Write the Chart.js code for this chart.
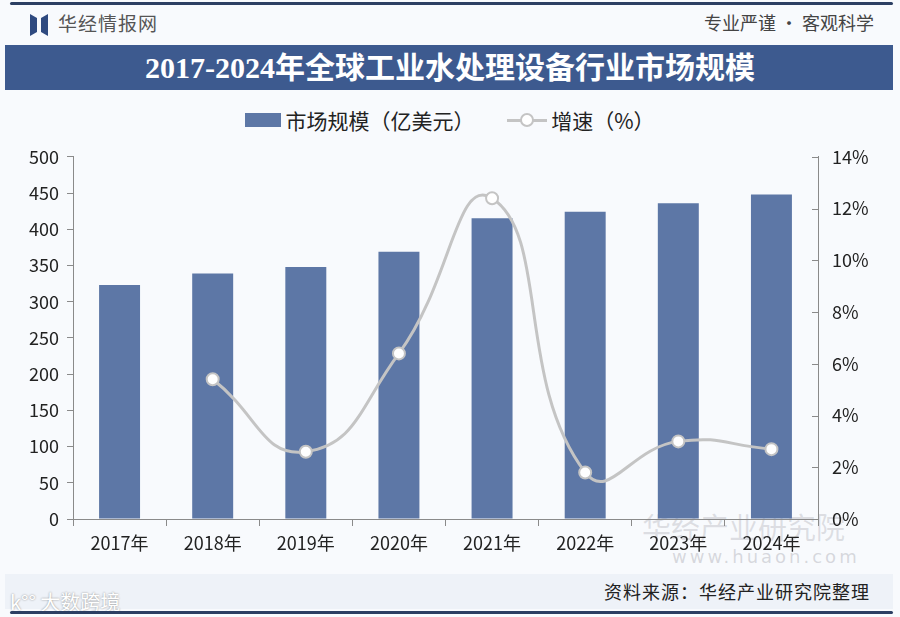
<!DOCTYPE html>
<html>
<head>
<meta charset="utf-8">
<script src="https://cdn.jsdelivr.net/npm/chart.js@4"></script>
<style>
  body { margin: 0; background: #f7f9fc; }
  #page { position: relative; width: 900px; height: 617px; overflow: hidden; background: #f8fafd;
          font-family: "Noto Sans CJK SC", sans-serif; }
  .topline { position: absolute; left: 10px; top: 2px; width: 883px; height: 3px; background: #2c3f63; border-radius: 2px; }
  .botline { position: absolute; left: 10px; top: 611px; width: 883px; height: 3px; background: #2c3f63; border-radius: 2px; }
  .logo { position: absolute; left: 30px; top: 14px; width: 18px; height: 22px; }
  .brand { position: absolute; left: 58px; top: 9px; font-size: 19px; color: #555; letter-spacing: 1px; }
  .motto { position: absolute; right: 26px; top: 9px; font-size: 18px; color: #444; }
  .banner { position: absolute; left: 5px; top: 45px; width: 888px; height: 45px; background: #3d5a8f; }
  .title { position: absolute; left: 0; top: 45px; width: 900px; line-height: 45px; text-align: center; color: #fff;
           font-size: 30px; font-weight: bold; font-family: "Liberation Serif", "Noto Sans CJK SC", serif; }
  .legend { position: absolute; top: 102px; left: 0; width: 900px; text-align: center; font-size: 21px; color: #222; }
  .legend span { display: inline-block; vertical-align: middle; }
  .sw-bar { width: 36px; height: 14px; background: #5d77a6; margin-right: 4px; }
  .sw-line { position: relative; width: 40px; height: 14px; margin: 0 4px 0 28px; }
  .sw-line i { position: absolute; left: 0; top: 6px; width: 40px; height: 3px; background: #c4c4c4; }
  .sw-line b { position: absolute; left: 13px; top: 0; width: 10px; height: 10px; border: 2px solid #c4c4c4; border-radius: 50%; background: #fff; }
  .footer { position: absolute; left: 5px; top: 574px; width: 888px; height: 35px; background: #eef2f8; }
  .source { position: absolute; right: 30px; top: 578px; font-size: 18px; color: #222; letter-spacing: 1px; }
  .wm1 { position: absolute; left: 642px; top: 505px; font-size: 29px; color: rgba(150,150,160,0.28); }
  .wm2 { position: absolute; left: 672px; top: 546px; font-size: 18px; color: rgba(150,150,160,0.35); letter-spacing: 3px;
         font-family: "DejaVu Sans", sans-serif; }
  .wm3 { position: absolute; left: 10px; top: 587px; font-size: 20px; color: #fff; text-shadow: 0 0 2px #888; }
  canvas { position: absolute; left: 0; top: 132px; }
</style>
</head>
<body>
<div id="page">
  <div class="topline"></div>
  <svg class="logo" viewBox="0 0 18 22"><path d="M0 0 L7 4 L7 18 L0 22 Z M18 0 L11 4 L11 18 L18 22 Z" fill="#2f4a80"/></svg>
  <div class="brand">华经情报网</div>
  <div class="motto">专业严谨 • 客观科学</div>
  <div class="banner"></div>
  <div class="title">2017-2024年全球工业水处理设备行业市场规模</div>
  <div class="legend">
    <span class="sw-bar"></span><span>市场规模（亿美元）</span>
    <span class="sw-line"><i></i><b></b></span><span>增速（%）</span>
  </div>
  <div class="wm1">华经产业研究院</div>
  <div class="wm2">www.huaon.com</div>
  <div class="footer"></div>
  <div class="source">资料来源：华经产业研究院整理</div>
  <div class="wm3">k°° 大数跨境</div>
  <div class="botline"></div>
  <canvas id="chart" width="900" height="438" style="width:900px;height:438px"></canvas>
</div>
<script>
var years = ['2017年', '2018年', '2019年', '2020年', '2021年', '2022年', '2023年', '2024年'];
var marketSize = [323, 339, 348, 369, 415, 424, 436, 448];
var growthRate = [null, 5.4, 2.6, 6.4, 12.4, 1.8, 3.0, 2.7];

var tickFont = { family: '"Liberation Sans Narrow", "Noto Sans CJK SC", sans-serif', size: 18 };
var axisGray = '#8a8a8a';

// tick marks on the right axis point into the chart
var rightTicks = {
    id: 'rightTicks',
    afterDraw: function(chart) {
        var s = chart.scales.y1;
        var c = chart.ctx;
        c.save();
        c.strokeStyle = axisGray;
        c.lineWidth = 1;
        s.ticks.forEach(function(t) {
            var y = Math.round(s.getPixelForValue(t.value)) + 0.5;
            c.beginPath();
            c.moveTo(s.left - 6, y);
            c.lineTo(s.left, y);
            c.stroke();
        });
        c.restore();
    }
};

var ctx = document.getElementById('chart').getContext('2d');
var chart = new Chart(ctx, {
    type: 'bar',
    data: {
        labels: years,
        datasets: [{
            label: '增速（%）',
            type: 'line',
            data: growthRate,
            yAxisID: 'y1',
            borderColor: '#c4c4c4',
            borderWidth: 3,
            pointRadius: 6,
            pointBackgroundColor: '#ffffff',
            pointBorderColor: '#c4c4c4',
            pointBorderWidth: 2,
            tension: 0.5,
            order: 1
        }, {
            label: '市场规模（亿美元）',
            data: marketSize,
            yAxisID: 'y',
            backgroundColor: '#5d77a6',
            barPercentage: 0.44,
            categoryPercentage: 1,
            order: 2
        }]
    },
    plugins: [rightTicks],
    options: {
        responsive: false,
        animation: false,
        layout: { padding: { top: 9, left: 0, right: 0, bottom: 0 } },
        plugins: {
            legend: { display: false },
            tooltip: { enabled: false }
        },
        scales: {
            x: {
                grid: { display: true, drawOnChartArea: false, offset: true, tickLength: 7, color: axisGray },
                border: { color: axisGray },
                ticks: { font: tickFont, color: '#222', padding: 6, maxRotation: 0 },
                afterFit: function(s) { s.height = 51; }
            },
            y: {
                position: 'left',
                min: 0,
                max: 500,
                ticks: { stepSize: 50, font: tickFont, color: '#222', padding: 8 },
                grid: { drawOnChartArea: false, tickLength: 6, color: axisGray },
                border: { color: axisGray },
                afterFit: function(s) { s.width = 73; }
            },
            y1: {
                position: 'right',
                min: 0,
                max: 14,
                ticks: { stepSize: 2, font: tickFont, color: '#222', padding: 14,
                         callback: function(v) { return v + '%'; } },
                grid: { drawOnChartArea: false, drawTicks: false, color: axisGray },
                border: { color: axisGray },
                afterFit: function(s) { s.width = 82; }
            }
        }
    }
});
</script>
</body>
</html>
